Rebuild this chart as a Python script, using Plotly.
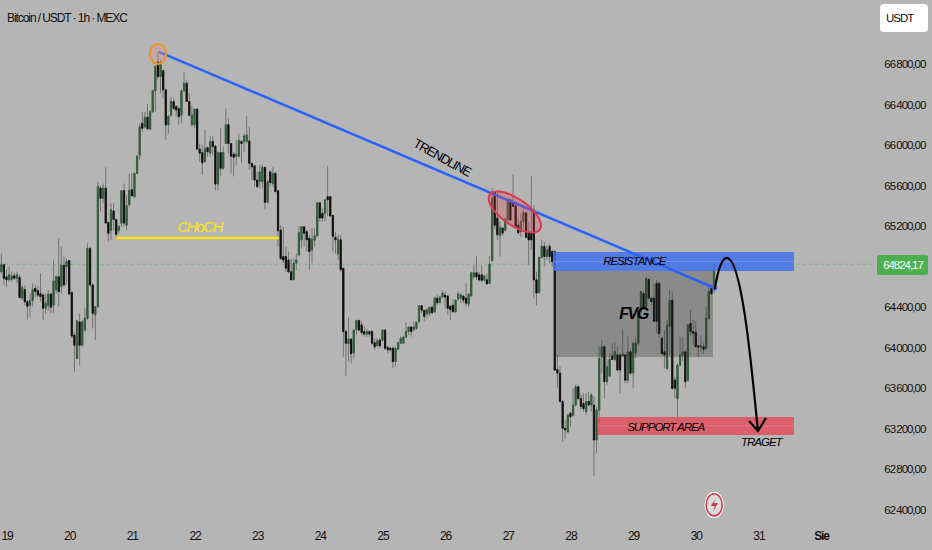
import plotly.graph_objects as go

W, H = 932, 550
BG = "#b5b5b5"
FONT = "Liberation Sans, sans-serif"

opens = [
64750,64820,64700,64670,64675,64710,64685,64695,64490,64575,
64455,64420,64465,64585,64565,64535,64520,64390,64420,64530,
64420,64570,64700,64605,64815,64800,64860,64545,64125,63895,
64255,64025,64175,64290,64980,64620,64325,64405,65575,65475,
65575,65235,65160,65350,65265,65160,65230,65550,65210,65410,
65560,65490,65720,65900,66215,66180,66275,66155,66330,66535,
66820,66675,66735,66545,66200,66295,66430,66380,66360,66295,
66535,66610,66430,66200,66200,66355,65960,65925,65835,65975,
65920,66035,65990,65615,65925,65770,66015,66200,66015,65910,
65890,65890,66035,66035,66035,66040,65820,65795,65655,65640,
65640,65780,65435,65735,65620,65720,65550,65160,64900,64900,
64865,64750,64670,64835,64915,65065,65195,65145,65080,64965,
65060,65105,65430,65325,65325,65490,65490,65305,65090,64925,
65065,64785,64160,64040,64085,63950,64175,64270,64225,64160,
64135,64160,64160,64050,64020,64075,64075,64175,64005,63995,
63995,63865,63985,64045,64045,64105,64160,64205,64180,64190,
64260,64415,64370,64335,64340,64400,64355,64490,64445,64500,
64520,64510,64410,64420,64355,64480,64490,64510,64490,64430,
64510,64700,64740,64720,64720,64670,64670,64635,64860,65540,
65280,65105,65180,65160,65260,65460,65440,65400,65210,65145,
65245,65330,65130,65130,65360,64670,64545,64890,65000,64900,
65000,64950,64950,63785,63750,63470,63205,63170,63355,63335,
63435,63615,63500,63450,63370,63470,63435,63435,63090,63385,
63910,64010,63665,63720,63920,63885,63930,63930,63920,63930,
63680,63960,63750,63950,64045,64355,64535,64405,64675,64490,
64490,64635,64635,64095,63960,63795,64210,64470,63680,63500,
63830,63930,63960,63680,64240,64160,64150,64020,64005,64010,
63995,64290,64585,64570,
]
highs = [
64930,64830,64770,64800,64750,64740,64750,64720,64620,64620,
64470,64535,64635,64620,64610,64735,64535,64535,64570,64545,
64870,64715,65080,64995,64900,64880,64865,64555,64160,64275,
64340,64275,64390,65030,64995,64635,64405,65640,65605,65620,
65780,65245,65425,65425,65275,65210,65555,65620,65505,65720,
65720,65720,65900,66215,66330,66330,66405,66345,66545,66790,
66920,66840,66740,66545,66295,66475,66460,66395,66380,66545,
66715,66640,66510,66395,66360,66360,66015,66000,66150,65985,
66090,66085,66000,65935,66170,65985,66360,66265,66015,65935,
66050,66115,66050,66115,66285,66180,65820,65805,65735,65805,
65805,65785,65655,65755,65780,65735,65555,65210,65195,64995,
64950,64880,64880,64930,65200,65200,65200,65160,65110,65180,
65180,65440,65440,65375,65460,65795,65490,65310,65145,65115,
65115,64785,64175,64305,64095,64175,64275,64275,64260,64210,
64190,64175,64175,64095,64095,64095,64180,64180,64010,64010,
64010,64010,64060,64110,64110,64250,64210,64210,64260,64260,
64420,64420,64375,64390,64405,64420,64510,64520,64510,64565,
64555,64520,64420,64480,64470,64555,64540,64520,64635,64540,
64750,64815,64905,64750,64815,64720,64735,64905,65575,65540,
65525,65245,65195,65280,65475,65460,65715,65440,65280,65325,
65410,65345,65245,65690,65410,64750,64900,65065,65045,65015,
65030,64965,64950,63930,63815,63485,63285,63355,63370,63600,
63635,63635,63550,63550,63550,63565,63550,63520,63420,64010,
64075,64025,63895,63945,64045,64060,64010,63945,64180,63930,
64110,63980,64060,64110,64375,64555,64555,64700,64685,64505,
64635,64670,64650,64110,64175,64275,64570,64555,63715,63845,
64110,64110,63980,64240,64375,64275,64260,64025,64125,64045,
64405,64605,64605,64825,
]
lows = [
64730,64620,64600,64650,64650,64670,64635,64490,64470,64420,
64280,64300,64405,64500,64500,64455,64275,64340,64370,64340,
64340,64535,64405,64535,64600,64620,64520,64095,63765,63895,
63830,64010,64160,64275,64600,64190,64075,64390,65345,65425,
65230,65045,65065,65160,65080,65130,65195,65195,65160,65390,
65490,65475,65720,65850,66130,66165,66150,66150,66315,66330,
66640,66510,66460,66050,66115,66280,66345,66280,66200,66215,
66525,66430,66280,66180,66165,65950,65835,65705,65835,65885,
65885,65900,65555,65550,65690,65755,66015,65915,65720,65690,
65800,65885,65820,65935,66015,65755,65655,65590,65575,65575,
65575,65360,65425,65590,65590,65540,64995,64865,64835,64750,
64735,64670,64670,64765,64900,64980,65000,64950,64770,64835,
65000,65090,65245,65245,65245,65295,65295,64950,64930,64865,
64750,63910,63720,63865,63845,63895,64125,64160,64125,64110,
64110,64110,64030,63980,64010,63995,64060,63980,63945,63960,
63800,63815,63980,64040,64040,64095,64125,64110,64160,64175,
64240,64340,64260,64290,64310,64340,64340,64420,64440,64490,
64390,64325,64275,64340,64340,64465,64440,64440,64405,64400,
64505,64685,64670,64650,64650,64650,64620,64630,64850,65165,
65065,64900,65105,65145,65245,65245,65395,65195,65115,65095,
65165,65080,64815,64965,64490,64420,64535,64880,64800,64865,
64835,64800,63780,63600,63470,63075,63105,63155,63220,63320,
63420,63485,63385,63370,63335,63420,63370,62735,62960,63255,
63750,63500,63635,63715,63880,63865,63765,63550,63910,63650,
63650,63730,63600,63895,64025,64305,64375,64390,64470,64420,
64260,64140,64095,63930,63795,63780,63930,63585,63500,63285,
63815,63865,63600,63665,64110,64025,64010,63910,63960,63940,
63980,64275,64520,64535,
]
closes = [
64820,64685,64670,64720,64710,64685,64720,64495,64595,64455,
64410,64465,64575,64555,64520,64505,64390,64440,64530,64400,
64660,64700,64555,64815,64620,64850,64530,64115,64025,64265,
64025,64255,64290,64980,64620,64340,64405,65590,65475,65575,
65230,65130,65360,65265,65120,65195,65550,65230,65400,65555,
65500,65720,65890,66180,66165,66275,66160,66330,66535,66775,
66675,66820,66545,66200,66285,66430,66360,66345,66280,66535,
66610,66430,66295,66295,66355,65960,65920,65825,65965,65935,
66035,65985,65615,65925,65770,65925,66200,66015,65890,65880,
65910,66045,66015,66090,66100,65820,65785,65655,65590,65735,
65780,65435,65640,65630,65720,65540,65155,64880,64865,64785,
64750,64670,64835,64865,65135,65195,65130,65065,64950,65070,
65105,65430,65280,65280,65460,65460,65300,65100,65065,65070,
64770,64160,64045,64085,63940,64175,64270,64175,64150,64135,
64160,64135,64045,64010,64070,64020,64175,63995,63980,63980,
63865,63995,64050,64095,64105,64160,64205,64160,64205,64250,
64415,64370,64310,64375,64400,64345,64490,64445,64500,64540,
64500,64390,64375,64355,64470,64530,64520,64470,64440,64530,
64740,64740,64700,64670,64665,64710,64630,64825,65475,65210,
65115,65190,65130,65270,65460,65260,65395,65200,65135,65245,
65335,65090,65065,65065,64670,64540,64890,65000,64900,64965,
64900,64850,63780,63750,63470,63205,63190,63335,63320,63435,
63615,63500,63420,63400,63470,63435,63535,63090,63385,63895,
64010,63665,63815,63885,63885,63960,63780,63780,63940,63680,
63960,63750,64045,64045,64355,64555,64390,64685,64490,64455,
64260,64260,64140,63945,63930,64225,64470,63600,63600,63830,
63930,63960,63665,64225,64160,64140,64010,64005,64020,63985,
64290,64555,64535,64824.17,
]
hours = list(range(len(closes)))

day_ticks = [2.18, 26.18, 50.18, 74.18, 98.18, 122.18, 146.18, 170.18, 194.18, 218.18, 242.18, 266.18, 290.18, 314.18]
day_labels = ["19", "20", "21", "22", "23", "24", "25", "26", "27", "28", "29", "30", "31", "<b>Sie</b>"]
price_ticks = [66800, 66400, 66000, 65600, 65200, 64400, 64000, 63600, 63200, 62800, 62400]
price_labels = ["66\u2009800,00", "66\u2009400,00", "66\u2009000,00", "65\u2009600,00", "65\u2009200,00",
                "64\u2009400,00", "64\u2009000,00", "63\u2009600,00", "63\u2009200,00", "62\u2009800,00", "62\u2009400,00"]
last_price = 64824.17

fig = go.Figure()
# wicks
fig.add_trace(go.Candlestick(
    x=hours, open=opens, high=highs, low=lows, close=closes,
    increasing=dict(line=dict(color="#737373", width=1), fillcolor="#737373"),
    decreasing=dict(line=dict(color="#737373", width=1), fillcolor="#737373"),
    whiskerwidth=0, showlegend=False, hoverinfo="skip"))
# bodies
fig.add_trace(go.Candlestick(
    x=hours, open=opens, close=closes,
    high=[max(a, b) for a, b in zip(opens, closes)],
    low=[min(a, b) for a, b in zip(opens, closes)],
    increasing=dict(line=dict(color="#2f5f38", width=0.8), fillcolor="#2f5f38"),
    decreasing=dict(line=dict(color="#0c0c0c", width=0.8), fillcolor="#0c0c0c"),
    whiskerwidth=0, showlegend=False, hoverinfo="skip"))


def rounded(x0, x1, y0, y1, r):
    fx = lambda v: v / W
    fy = lambda v: 1 - v / H
    rx, ry = r / W, r / H
    a, b, c, d = fx(x0), fx(x1), fy(y0), fy(y1)
    return (f"M {a+rx} {c} L {b-rx} {c} Q {b} {c} {b} {c-ry} L {b} {d+ry} Q {b} {d} {b-rx} {d} "
            f"L {a+rx} {d} Q {a} {d} {a} {d+ry} L {a} {c-ry} Q {a} {c} {a+rx} {c} Z")


def ellipse_path(cx, cy, ux, uy, vx, vy, n=48):
    import math
    pts = []
    for i in range(n):
        t = 2 * math.pi * i / n
        pts.append((cx + ux * math.cos(t) + vx * math.sin(t), cy + uy * math.cos(t) + vy * math.sin(t)))
    return "M " + " L ".join(f"{x} {y}" for x, y in pts) + " Z"


shapes = [
    dict(type="line", layer="below", xref="x", yref="y", x0=-1, x1=333.5, y0=last_price, y1=last_price,
         line=dict(color="rgba(76,175,80,0.5)", width=1, dash="dot")),
    # FVG
    dict(type="rect", xref="x", yref="y", x0=212.1, x1=272.6, y0=63909, y1=64758,
         fillcolor="rgba(40,40,40,0.30)", line=dict(width=0)),
    # resistance
    dict(type="rect", xref="x", yref="y", x0=211.3, x1=303.6, y0=64758, y1=64945,
         fillcolor="rgba(70,115,235,0.88)", line=dict(width=0)),
    dict(type="line", xref="x", yref="y", x0=211.3, x1=303.6, y0=64850, y1=64850,
         line=dict(color="rgba(255,255,255,0.18)", width=1)),
    # support
    dict(type="rect", xref="x", yref="y", x0=228.5, x1=303.6, y0=63140, y1=63317,
         fillcolor="rgba(230,70,85,0.78)", line=dict(width=0)),
    dict(type="line", xref="x", yref="y", x0=228.5, x1=303.6, y0=63230, y1=63230,
         line=dict(color="rgba(255,255,255,0.18)", width=1)),
    # trendline
    dict(type="line", xref="x", yref="y", x0=60.4, y0=66920, x1=274.1, y1=64580,
         line=dict(color="#2962ff", width=2.5)),
    # CHoCH
    dict(type="line", xref="x", yref="y", x0=44, y0=65083, x1=106.3, y1=65083,
         line=dict(color="#fbe414", width=2.5)),
    # peak circle
    dict(type="circle", xref="x", yref="y", x0=56.9, x1=63.1, y0=66800, y1=66997,
         fillcolor="rgba(225,140,140,0.35)", line=dict(color="#e8962e", width=2)),
    # ellipse
    dict(type="path", xref="x", yref="y",
         path=ellipse_path(196.7, 65340, 9.6, -172, 2.9, 106),
         fillcolor="rgba(225,60,75,0.28)", line=dict(color="#d93a50", width=2)),
    # projected curve
    dict(type="path", xref="x", yref="y",
         path="M 273.3 64580 C 274.5 64768 276.0 64886 277.9 64886 C 283.7 64886 287.5 63781 289.8 63179",
         line=dict(color="#000000", width=2.2)),
    dict(type="path", xref="x", yref="y", path="M 286.4 63278 L 289.8 63179 L 292.9 63307",
         line=dict(color="#000000", width=2.2)),
    # price tag, currency button
    dict(type="path", xref="paper", yref="paper", path=rounded(877, 928, 255, 275, 2),
         fillcolor="#4caf50", line=dict(width=0)),
    dict(type="path", xref="paper", yref="paper", path=rounded(880, 928, 4, 32, 4),
         fillcolor="#ffffff", line=dict(width=0)),
    # event marker
    dict(type="circle", xref="x", yref="y", x0=269.4, x1=276.7, y0=62320, y1=62580,
         fillcolor="#ffffff", line=dict(width=0)),
    dict(type="circle", xref="x", yref="y", x0=270.0, x1=276.1, y0=62340, y1=62560,
         fillcolor="#dddddd", line=dict(color="#c5394e", width=1.5)),
    dict(type="path", xref="x", yref="y",
         path="M 273.7 62518 L 271.8 62439 L 273.3 62439 L 272.6 62380 L 274.5 62469 L 272.9 62469 Z",
         fillcolor="#c5394e", line=dict(width=0)),
]


def label(x, y, text, size, color="#000000", angle=0, italic=True):
    body = f"<i>{text}</i>" if italic else text
    return dict(xref="x", yref="y", x=x, y=y, text=body, showarrow=False, textangle=angle,
                xanchor="center", yanchor="middle",
                font=dict(family=FONT, size=size, color=color))


annotations = [
    label(168.8, 65873, "TRENDLINE", 13, angle=29, italic=False),
    label(76.1, 65192, "CHoCH", 15, color="#fbe414"),
    label(242.7, 64856, "RESISTANCE", 11.5),
    label(242.3, 64334, "<b>FVG</b>", 16),
    label(254.6, 63219, "SUPPORT AREA", 11.5),
    label(291.3, 63070, "TRAGET", 11.5),
    dict(xref="paper", yref="paper", x=67 / W, y=1 - 18 / H, xanchor="center", yanchor="middle",
         text="Bitcoin / USDT · 1h · MEXC", showarrow=False,
         font=dict(family=FONT, size=12, color="#111111")),
    dict(xref="paper", yref="paper", x=903 / W, y=1 - 265 / H, xanchor="center", yanchor="middle",
         text="64824,17", showarrow=False,
         font=dict(family=FONT, size=11.5, color="#ffffff")),
    dict(xref="paper", yref="paper", x=899 / W, y=1 - 18 / H, xanchor="center", yanchor="middle",
         text="USDT", showarrow=False,
         font=dict(family=FONT, size=11.5, color="#111111")),
]

fig.update_layout(
    width=W, height=H, autosize=False,
    margin=dict(l=0, r=0, t=0, b=0),
    paper_bgcolor=BG, plot_bgcolor=BG,
    showlegend=False, boxgap=0.35, boxmode="overlay",
    shapes=shapes, annotations=annotations,
    xaxis=dict(domain=[0, 872 / W], range=[-0.5, 333.5], rangeslider=dict(visible=False),
               tickmode="array", tickvals=day_ticks, ticktext=day_labels,
               showgrid=False, zeroline=False, showline=False, ticks="outside", ticklen=5,
               tickcolor=BG, automargin=False,
               tickfont=dict(family=FONT, size=12, color="#111111")),
    yaxis=dict(domain=[30 / H, 1], range=[62301, 67431], side="right",
               tickmode="array", tickvals=price_ticks, ticktext=price_labels,
               showgrid=False, zeroline=False, showline=False, ticks="outside", ticklen=9,
               tickcolor=BG, automargin=False,
               tickfont=dict(family=FONT, size=11.5, color="#111111")),
)

tighten = """
document.documentElement.style.background = '#b5b5b5';
document.body.style.margin = '0';
document.body.style.overflow = 'hidden';
var st = document.createElement('style');
st.textContent = 'svg text { letter-spacing: -0.09em; }';
document.head.appendChild(st);
"""
fig.write_html("out.html", post_script=tighten, config={"displayModeBar": False})
